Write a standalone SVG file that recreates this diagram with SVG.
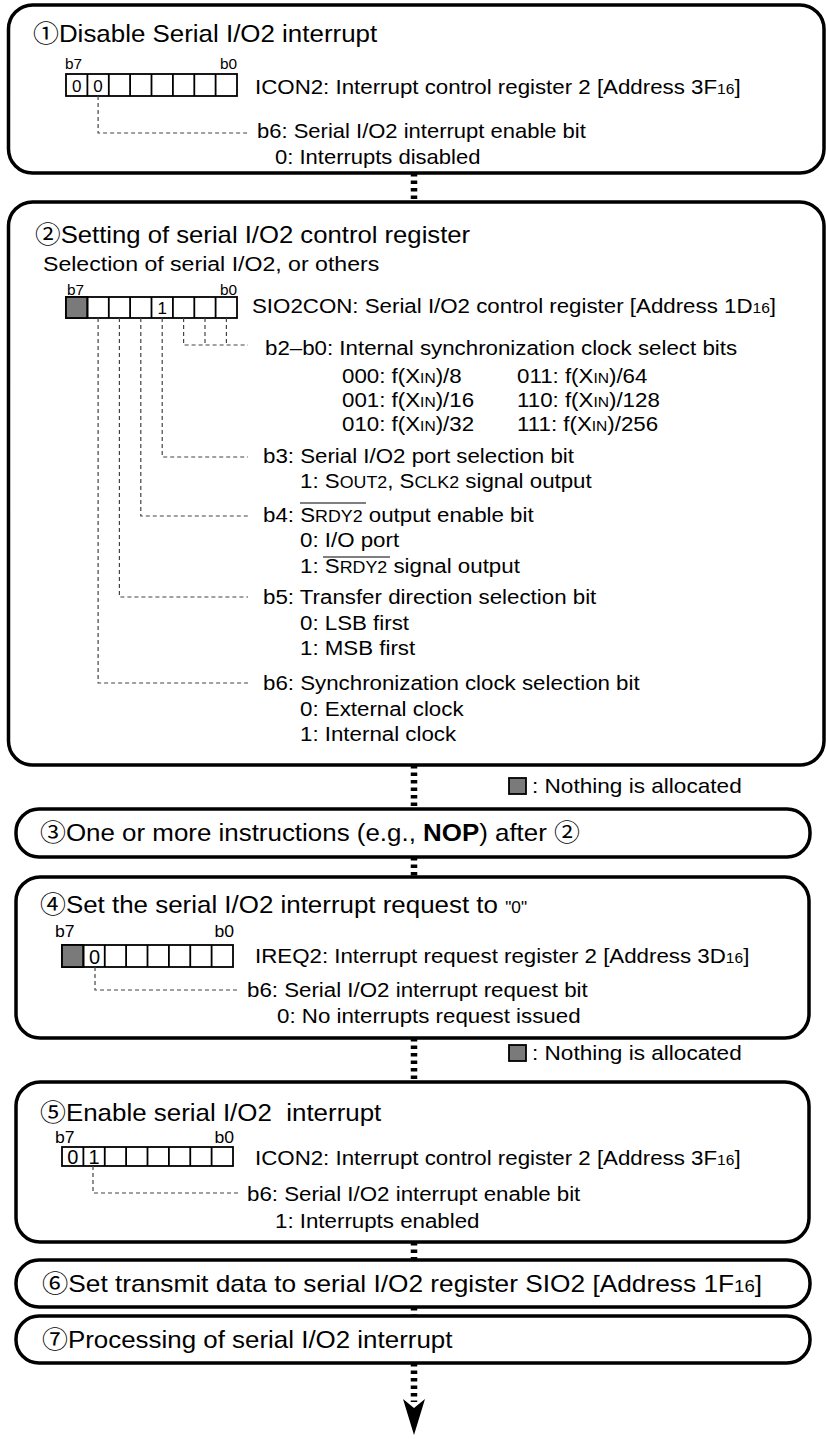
<svg xmlns="http://www.w3.org/2000/svg" width="826" height="1439" viewBox="0 0 826 1439">
<style>
text{font-family:"Liberation Sans","Noto Sans CJK JP",sans-serif;fill:#000}
.h{font-size:24px}
.b{font-size:20px}
.s{font-size:14px}
.d{font-size:17px}
.dl{font-size:20px}
.sub{font-size:14px}
.sc{font-size:16px}
.box{fill:#fff;stroke:#000;stroke-width:3.5}
.reg{fill:#fff;stroke:#000;stroke-width:1.8}
.cl{stroke:#000;stroke-width:1.8}
.na{fill:#7a7a7a;stroke:#000;stroke-width:1.8}
.lead{fill:none;stroke:#444;stroke-width:1.2;stroke-dasharray:4 3}
.conn{fill:none;stroke:#000;stroke-width:6.5;stroke-dasharray:3.5 4}
.ov{stroke:#000;stroke-width:1.2}
</style>

<g id="connectors">
<path class="conn" d="M414 173V202"/>
<path class="conn" d="M414 765V809"/>
<path class="conn" d="M414 857V877"/>
<path class="conn" d="M414 1038V1082"/>
<path class="conn" d="M414 1242V1260"/>
<path class="conn" d="M414 1307V1316"/>
<path class="conn" d="M414 1363V1402"/>
<polygon points="403,1399 414,1408 425,1399 414,1435" fill="#000"/>
</g>

<g id="node1">
<rect class="box" x="8.5" y="5" width="815.5" height="168" rx="24"/>
<text class="h" transform="translate(33 42) scale(1.08 1)">①Disable Serial I/O2 interrupt</text>
<text class="s" transform="translate(65 69) scale(1.1 1)">b7</text>
<text class="s" text-anchor="end" transform="translate(237 69) scale(1.1 1)">b0</text>
<rect class="reg" x="66" y="74" width="171" height="22"/>
<path class="cl" d="M87.4 74V96M108.8 74V96M130.1 74V96M151.5 74V96M172.9 74V96M194.3 74V96M215.6 74V96"/>
<text class="d" text-anchor="middle" x="76.7" y="92">0</text>
<text class="d" text-anchor="middle" x="98.1" y="92">0</text>
<text class="b" transform="translate(255 94) scale(1.115 1)">ICON2: Interrupt control register 2 [Address 3F<tspan class="sub">16</tspan>]</text>
<path class="lead" d="M98.1 96V133H248"/>
<text class="b" transform="translate(257 138) scale(1.1 1)">b6: Serial I/O2 interrupt enable bit</text>
<text class="b" transform="translate(275 164) scale(1.1 1)">0: Interrupts disabled</text>
</g>

<g id="node2">
<rect class="box" x="8.5" y="202" width="815.5" height="563" rx="24"/>
<text class="h" transform="translate(35 243) scale(1.07 1)">②Setting of serial I/O2 control register</text>
<text class="b" transform="translate(43 271) scale(1.1 1)" style="font-size:21px">Selection of serial I/O2, or others</text>
<text class="s" transform="translate(67 295) scale(1.1 1)">b7</text>
<text class="s" text-anchor="end" transform="translate(237 295) scale(1.1 1)">b0</text>
<rect class="reg" x="66" y="297" width="171" height="21"/>
<rect class="na" x="66" y="297" width="21.4" height="21"/>
<path class="cl" d="M87.4 297V318M108.8 297V318M130.1 297V318M151.5 297V318M172.9 297V318M194.3 297V318M215.6 297V318"/>
<text class="d" text-anchor="middle" x="162.2" y="314">1</text>
<text class="b" transform="translate(252 313) scale(1.115 1)">SIO2CON: Serial I/O2 control register [Address 1D<tspan class="sub">16</tspan>]</text>
<path class="lead" d="M183.6 318V345H248M205 318V345M226.4 318V345"/>
<path class="lead" d="M162.2 318V457H248"/>
<path class="lead" d="M140.8 318V516H248"/>
<path class="lead" d="M119.4 318V597H248"/>
<path class="lead" d="M98.1 318V683H248"/>
<text class="b" transform="translate(265 355) scale(1.115 1)">b2–b0: Internal synchronization clock select bits</text>
<text class="b" transform="translate(342 383) scale(1.115 1)">000: f(X<tspan class="sub">IN</tspan>)/8</text>
<text class="b" transform="translate(342 407) scale(1.115 1)">001: f(X<tspan class="sub">IN</tspan>)/16</text>
<text class="b" transform="translate(342 431) scale(1.115 1)">010: f(X<tspan class="sub">IN</tspan>)/32</text>
<text class="b" transform="translate(517 383) scale(1.115 1)">011: f(X<tspan class="sub">IN</tspan>)/64</text>
<text class="b" transform="translate(517 407) scale(1.115 1)">110: f(X<tspan class="sub">IN</tspan>)/128</text>
<text class="b" transform="translate(517 431) scale(1.115 1)">111: f(X<tspan class="sub">IN</tspan>)/256</text>
<text class="b" transform="translate(263 463) scale(1.115 1)">b3: Serial I/O2 port selection bit</text>
<text class="b" transform="translate(300 488) scale(1.115 1)">1: S<tspan class="sc">OUT2</tspan>, S<tspan class="sc">CLK2</tspan> signal output</text>
<text class="b" transform="translate(263 522) scale(1.115 1)">b4: S<tspan class="sc">RDY2</tspan> output enable bit</text>
<line class="ov" x1="300" y1="503" x2="366" y2="503"/>
<text class="b" transform="translate(300 547) scale(1.115 1)">0: I/O port</text>
<text class="b" transform="translate(300 573) scale(1.115 1)">1: S<tspan class="sc">RDY2</tspan> signal output</text>
<line class="ov" x1="323" y1="557" x2="390" y2="557"/>
<text class="b" transform="translate(263 604) scale(1.115 1)">b5: Transfer direction selection bit</text>
<text class="b" transform="translate(300 630) scale(1.115 1)">0: LSB first</text>
<text class="b" transform="translate(300 655) scale(1.115 1)">1: MSB first</text>
<text class="b" transform="translate(263 690) scale(1.115 1)">b6: Synchronization clock selection bit</text>
<text class="b" transform="translate(300 716) scale(1.115 1)">0: External clock</text>
<text class="b" transform="translate(300 741) scale(1.115 1)">1: Internal clock</text>
</g>

<g id="legend1">
<rect class="na" x="509" y="778" width="17" height="16"/>
<text class="b" transform="translate(532 793) scale(1.13 1)">: Nothing is allocated</text>
</g>

<g id="node3">
<rect class="box" x="16" y="809" width="794" height="48" rx="23"/>
<text class="h" transform="translate(40 841) scale(1.08 1)">③One or more instructions (e.g., <tspan font-weight="bold">NOP</tspan>) after ②</text>
</g>

<g id="node4">
<rect class="box" x="16" y="877" width="793" height="161" rx="24"/>
<text class="h" transform="translate(40 913) scale(1.08 1)">④Set the serial I/O2 interrupt request to <tspan style="font-size:16px">"0"</tspan></text>
<text class="s" transform="translate(55 937) scale(1.1 1)" style="font-size:16px">b7</text>
<text class="s" text-anchor="end" transform="translate(234 937) scale(1.1 1)" style="font-size:16px">b0</text>
<rect class="reg" x="62" y="945" width="171" height="22"/>
<rect class="na" x="62" y="945" width="21.4" height="22"/>
<path class="cl" d="M83.4 945V967M104.75 945V967M126.1 945V967M147.5 945V967M168.9 945V967M190.25 945V967M211.6 945V967"/>
<text class="dl" text-anchor="middle" x="94.6" y="964">0</text>
<text class="b" transform="translate(255 963) scale(1.115 1)">IREQ2: Interrupt request register 2 [Address 3D<tspan class="sub">16</tspan>]</text>
<path class="lead" d="M95 967V990H237"/>
<text class="b" transform="translate(247 997) scale(1.115 1)">b6: Serial I/O2 interrupt request bit</text>
<text class="b" transform="translate(277 1023) scale(1.115 1)">0: No interrupts request issued</text>
</g>

<g id="legend2">
<rect class="na" x="509" y="1045" width="17" height="16"/>
<text class="b" transform="translate(532 1060) scale(1.13 1)">: Nothing is allocated</text>
</g>

<g id="node5">
<rect class="box" x="16" y="1082" width="793" height="160" rx="24"/>
<text class="h" xml:space="preserve" transform="translate(40 1121) scale(1.08 1)">⑤Enable serial I/O2  interrupt</text>
<text class="s" transform="translate(55 1143) scale(1.1 1)" style="font-size:16px">b7</text>
<text class="s" text-anchor="end" transform="translate(234 1143) scale(1.1 1)" style="font-size:16px">b0</text>
<rect class="reg" x="62" y="1147" width="171" height="19"/>
<path class="cl" d="M83.4 1147V1166M104.75 1147V1166M126.1 1147V1166M147.5 1147V1166M168.9 1147V1166M190.25 1147V1166M211.6 1147V1166"/>
<text class="dl" text-anchor="middle" x="72.7" y="1164">0</text>
<text class="dl" text-anchor="middle" x="94.1" y="1164">1</text>
<text class="b" transform="translate(255 1165) scale(1.115 1)">ICON2: Interrupt control register 2 [Address 3F<tspan class="sub">16</tspan>]</text>
<path class="lead" d="M93 1166V1193H238"/>
<text class="b" transform="translate(247 1201) scale(1.115 1)">b6: Serial I/O2 interrupt enable bit</text>
<text class="b" transform="translate(275 1228) scale(1.115 1)">1: Interrupts enabled</text>
</g>

<g id="node6">
<rect class="box" x="16" y="1260" width="794" height="47" rx="23"/>
<text class="h" transform="translate(42 1292) scale(1.095 1)">⑥Set transmit data to serial I/O2 register SIO2 [Address 1F<tspan style="font-size:17px">16</tspan>]</text>
</g>

<g id="node7">
<rect class="box" x="16" y="1316" width="794" height="47" rx="23"/>
<text class="h" transform="translate(42 1348) scale(1.08 1)">⑦Processing of serial I/O2 interrupt</text>
</g>
</svg>
